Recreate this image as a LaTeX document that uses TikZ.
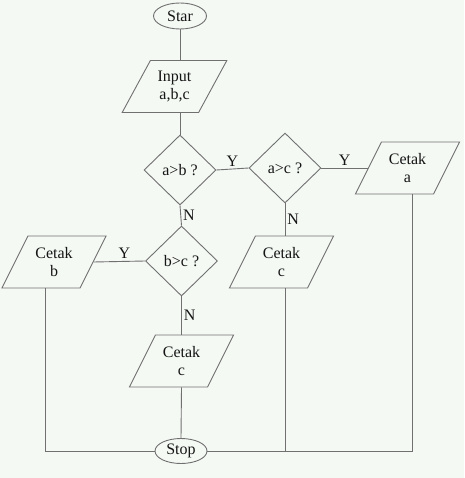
\documentclass[tikz,border=0pt]{standalone}
\usepackage{fontspec}
\setmainfont{Liberation Serif}
\usetikzlibrary{shapes.geometric}
\definecolor{bg}{HTML}{F4F9F4}
\definecolor{ln}{HTML}{707070}
\definecolor{tx}{HTML}{151515}
\tikzset{
  base/.style={draw=ln, line width=0.9pt, text=tx, inner sep=0pt, align=center,
    font=\fontsize{16}{17.5}\selectfont},
  term/.style={base, ellipse, minimum width=53, minimum height=26},
  io/.style={base, trapezium, trapezium left angle=57, trapezium right angle=123,
    trapezium stretches=true, minimum width=105, minimum height=52},
  dec/.style={base, diamond, aspect=1.03, minimum width=72, minimum height=70},
  conn/.style={draw=ln, line width=0.9pt},
  lab/.style={text=tx, font=\fontsize{16}{17}\selectfont, inner sep=2pt}
}
\begin{document}
\begin{tikzpicture}[x=1pt,y=-1pt]
\fill[bg] (0,0) rectangle (464,478);
\useasboundingbox (0,0) rectangle (464,478);

\node[term] (star) at (180,16) {Star};
\node[io] (inp) at (174.5,86.5) {Input\\a,b,c};
\node[dec] (dab) at (180,170) {a>b ?};
\node[dec] (dac) at (285,168) {a>c ?};
\node[io] (ca) at (407.5,168) {Cetak\\a};
\node[dec] (dbc) at (181.5,261) {b>c ?};
\node[io] (cb) at (54,262) {Cetak\\b};
\node[io] (cc2) at (281.5,262) {Cetak\\c};
\node[io] (cc1) at (181.5,361) {Cetak\\c};
\node[term, minimum width=52, minimum height=25] (stop) at (181,451) {Stop};

\draw[conn] (star.south) -- (star.south |- inp.north);
\draw[conn] (dab.north |- inp.south) -- (dab.north);
\draw[conn] (dab.east) -- node[lab, above] {Y} (dac.west);
\draw[conn] (dac.east) -- node[lab, above] {Y} (ca.left side);
\draw[conn] (dab.south) -- node[lab, right] {N} (dbc.north);
\draw[conn] (dbc.west) -- node[lab, above, pos=0.4] {Y} (cb.right side);
\draw[conn] (dbc.south) -- node[lab, right] {N} (dbc.south |- cc1.north);
\draw[conn] (dac.south) -- node[lab, right] {N} (dac.south |- cc2.north);
\draw[conn] (dbc.south |- cc1.south) -- (stop.north);
\draw[conn] ([xshift=-9pt]cb.center |- cb.south) |- (stop.west);
\draw[conn] ([xshift=4.5pt]ca.center |- ca.south) |- (stop.east);
\draw[conn] (dac.south |- cc2.south) -- (dac.south |- stop.east);
\end{tikzpicture}
\end{document}
